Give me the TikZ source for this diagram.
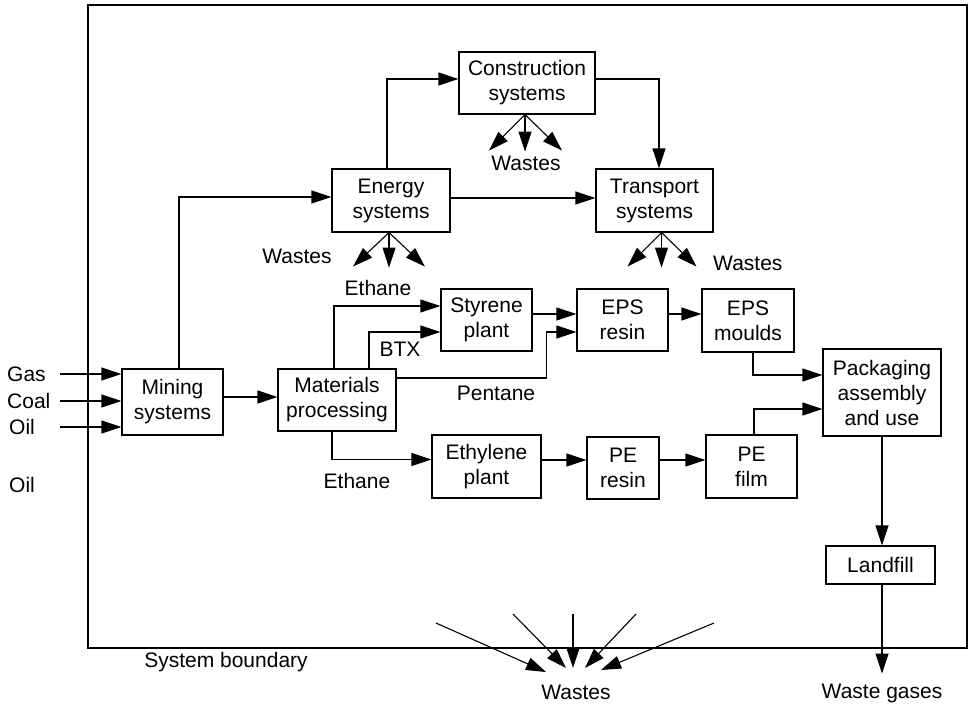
\documentclass[tikz,border=0pt]{standalone}
\usepackage{fontspec}
\setmainfont{Liberation Sans}
\usetikzlibrary{arrows.meta}
\begin{document}
\begin{tikzpicture}[x=1pt,y=-1pt,
  every node/.style={font=\fontsize{21}{25}\selectfont},
  box/.style={draw, line width=1.1pt, align=center, inner sep=0pt},
  lbl/.style={inner sep=0pt},
  arr/.style={line width=1.1pt, -{Triangle[length=20pt,width=13pt]}},
  plain/.style={line width=1.1pt}]
\useasboundingbox (0,0) rectangle (969,705);

% system boundary
\draw[plain] (88,5) rectangle (967,648);
\node[lbl] (sysb) at (226,662) {System boundary};

% process boxes
\node[box, minimum width=136pt, minimum height=62pt] (cons)  at (527,83)    {Construction\\systems};
\node[box, minimum width=118pt, minimum height=63pt] (energy) at (391,200.5) {Energy\\systems};
\node[box, minimum width=117pt, minimum height=63pt] (trans) at (654.5,200.5) {Transport\\systems};
\node[box, minimum width=101pt, minimum height=66pt] (mining) at (172.5,402) {Mining\\systems};
\node[box, minimum width=118pt, minimum height=62pt] (mat)   at (337,400)   {Materials\\processing};
\node[box, minimum width=91pt,  minimum height=62pt] (styr)  at (486.5,320) {Styrene\\plant};
\node[box, minimum width=91pt,  minimum height=62pt] (epsr)  at (622.5,320) {EPS\\resin};
\node[box, minimum width=92pt,  minimum height=63pt] (epsm)  at (748,320.5) {EPS\\moulds};
\node[box, minimum width=118pt, minimum height=87pt] (pack)  at (882,392.5) {Packaging\\assembly\\and use};
\node[box, minimum width=109pt, minimum height=63pt] (ethy)  at (486.5,466.5) {Ethylene\\plant};
\node[box, minimum width=72pt,  minimum height=62pt] (per)   at (623,468)   {PE\\resin};
\node[box, minimum width=91pt,  minimum height=63pt] (film)  at (751.5,466.5) {PE\\film};
\node[box, minimum width=109pt, minimum height=38pt] (land)  at (880.5,565) {Landfill};

% raw material inputs
\node[lbl, anchor=west] (gas)  at (7,374) {Gas};
\node[lbl, anchor=west] (coal) at (7,401) {Coal};
\node[lbl, anchor=west] (oil)  at (9,427) {Oil};
\node[lbl, anchor=west] (oil2) at (9,485) {Oil};
\coordinate (gasin)  at (60,374);
\coordinate (coalin) at (60,401);
\coordinate (oilin)  at (60,427);
\draw[arr] (gasin)  -- (gasin -| mining.west);
\draw[arr] (coalin) -- (coalin -| mining.west);
\draw[arr] (oilin)  -- (oilin -| mining.west);

% main flows
\draw[arr] ([yshift=5pt]mining.east) -- ([yshift=5pt]mining.east -| mat.west);
\draw[arr] ([xshift=6.5pt]mining.north) |- ([yshift=3.5pt]energy.west);
\draw[arr] ([xshift=-4pt]energy.north) |- ([yshift=4pt]cons.west);
\draw[arr] ([yshift=4pt]cons.east) -| ([xshift=4.5pt]trans.north);
\draw[arr] ([yshift=2.5pt]energy.east) -- ([yshift=2.5pt]energy.east -| trans.west);

% waste fans
\foreach \dx/\dy in {-36/34, 0/35, 36/34}
  \draw[arr] ([xshift=-2pt]energy.south) -- ++(\dx,\dy);
\foreach \dx/\dy in {-36/36, 0/37, 37/36}
  \draw[arr] ([xshift=-2pt]cons.south) -- ++(\dx,\dy);
\foreach \dx/\dy in {-34/34, 0/35, 35/34}
  \draw[arr] ([xshift=7pt]trans.south) -- ++(\dx,\dy);
\node[lbl] (wen) at (297,256) {Wastes};
\node[lbl] (wco) at (526,163) {Wastes};
\node[lbl, anchor=west] (wtr) at (713,263) {Wastes};

% styrene / EPS chain
\draw[arr] ([xshift=-3pt]mat.north) |- ([yshift=14pt]styr.west);
\node[lbl] (eth1) at (378,288) {Ethane};
\draw[arr] ([xshift=32pt]mat.north) |- ([yshift=-12pt]styr.west);
\node[lbl] (btx) at (400,349) {BTX};
\draw[arr] ([yshift=22pt]mat.east) -- ++(150,0) |- ([yshift=-12pt]epsr.west);
\node[lbl] (pent) at (496,393) {Pentane};
\draw[arr] ([yshift=6pt]styr.east) -- ([yshift=6pt]styr.east -| epsr.west);
\draw[arr] ([yshift=6pt]epsr.east) -- ([yshift=6pt]epsr.east -| epsm.west);
\draw[arr] ([xshift=5pt]epsm.south) |- ([yshift=17.5pt]pack.west);

% ethylene / PE chain
\draw[arr] ([xshift=-5pt]mat.south) |- ([yshift=7pt]ethy.west);
\node[lbl] (eth2) at (357,481) {Ethane};
\draw[arr] ([yshift=6.5pt]ethy.east) -- ([yshift=6.5pt]ethy.east -| per.west);
\draw[arr] ([yshift=8pt]per.east) -- ([yshift=8pt]per.east -| film.west);
\draw[arr] ([xshift=2.5pt]film.north) |- ([yshift=-16.5pt]pack.west);

% end of life
\draw[arr] (pack.south) -- (pack.south |- land.north);
\node[lbl] (wgas) at (882,693) {Waste gases};
\draw[arr] (pack.south |- land.south) -- ++(0,89);

% wastes leaving the boundary
\node[lbl] (wbot) at (576,692) {Wastes};
\coordinate (w1) at (436,623);
\coordinate (w2) at (513,614);
\coordinate (w3) at (573,614);
\coordinate (w4) at (636,614);
\coordinate (w5) at (714,623);
\draw[arr] (w1) -- (546,672);
\draw[arr] (w2) -- (566,668);
\draw[arr] (w3) -- (573,668);
\draw[arr] (w4) -- (585,668);
\draw[arr] (w5) -- (601,670);
\end{tikzpicture}
\end{document}
